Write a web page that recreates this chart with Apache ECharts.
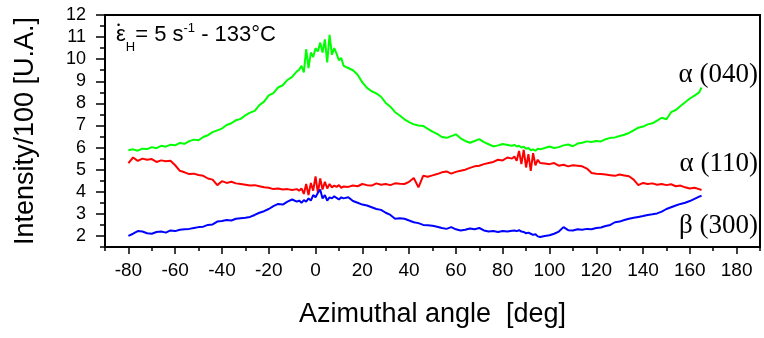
<!DOCTYPE html>
<html>
<head>
<meta charset="utf-8">
<script src="https://cdn.jsdelivr.net/npm/echarts@6/dist/echarts.min.js"></script>
<style>html,body{margin:0;padding:0;background:#fff}#c{width:764px;height:338px}</style>
</head>
<body>
<div id="c"></div>
<script>
// Azimuthal angle (deg)
const angles = [
  -80,-78,-76,-74,-72,-70,-68,-66,-64,-62,-60,-58,-56,-54,-52,-50,-48,-46,-44,-42,-40,-38,-36,-34,-32,-30,-28,-26,-24,-22,-20,-18,-16,-14,-12,-10,-8,
  -7,-6,-5,-4,-3,-2,-1,0,1,2,3,4,5,6,7,8,9,10,11,12,
  14,16,18,20,22,24,26,28,30,32,34,36,38,40,42,44,46,48,50,52,54,56,58,60,62,64,66,68,70,72,74,76,78,80,82,84,
  85,86,87,88,89,90,91,92,93,94,95,96,
  98,100,102,104,106,108,110,112,114,116,118,120,122,124,126,128,130,132,134,136,138,140,142,144,146,148,150,152,154,156,158,160,162,164,
  165
];
// alpha (040)
const alpha040 = [
  5.88,5.92,5.86,5.95,5.93,6.02,5.97,6.08,6.04,6.13,6.10,6.21,6.17,6.29,6.36,6.33,6.48,6.56,6.70,6.78,6.86,7.02,7.10,7.24,7.30,7.46,7.58,7.66,7.92,8.08,8.36,8.46,8.72,8.82,9.06,9.20,9.45,
  9.52,9.70,9.40,10.45,9.60,10.30,10.10,10.50,10.35,10.75,10.30,10.90,9.85,11.10,10.20,10.50,10.25,9.95,10.05,9.70,
  9.60,9.50,9.30,8.95,8.70,8.55,8.45,8.30,8.02,7.85,7.60,7.45,7.28,7.15,7.05,7.00,6.98,6.85,6.72,6.62,6.48,6.44,6.52,6.60,6.42,6.30,6.22,6.30,6.38,6.25,6.15,6.05,6.10,6.16,6.12,6.08,
  6.12,6.05,6.08,6.00,6.04,5.95,5.98,5.88,5.92,5.86,5.95,5.92,
  5.98,6.05,5.98,6.02,6.10,6.14,6.06,6.18,6.22,6.28,6.25,6.30,6.28,6.38,6.44,6.46,6.52,6.58,6.66,6.78,6.90,6.95,7.05,7.10,7.22,7.35,7.28,7.60,7.70,7.88,8.05,8.22,8.35,8.50,
  8.72
];
// alpha (110)
const alpha110 = [
  5.30,5.55,5.40,5.50,5.45,5.48,5.35,5.42,5.38,5.40,5.20,4.95,4.88,4.80,4.82,4.76,4.72,4.60,4.55,4.30,4.48,4.40,4.45,4.38,4.35,4.32,4.28,4.30,4.25,4.20,4.18,4.12,4.15,4.10,4.12,4.08,4.12,
  4.05,4.15,3.90,4.35,3.85,4.40,4.05,4.70,3.95,4.60,4.10,4.45,4.15,4.35,4.20,4.28,4.22,4.30,4.18,4.24,
  4.22,4.28,4.25,4.35,4.30,4.28,4.38,4.32,4.35,4.30,4.38,4.36,4.35,4.45,4.62,4.20,4.72,4.68,4.74,4.80,4.88,4.92,4.82,4.90,4.95,5.00,5.08,5.15,5.18,5.25,5.30,5.35,5.45,5.42,5.55,5.50,
  5.60,5.40,5.85,5.25,5.90,5.10,5.70,4.95,5.75,5.20,5.45,5.30,
  5.28,5.25,5.30,5.18,5.22,5.15,5.20,5.18,5.15,5.05,4.85,4.82,4.80,4.78,4.75,4.72,4.78,4.74,4.70,4.55,4.30,4.40,4.35,4.38,4.32,4.35,4.30,4.34,4.25,4.28,4.20,4.15,4.18,4.12,
  4.08
];
// beta (300)
const beta300 = [
  2.00,2.10,2.22,2.20,2.12,2.10,2.18,2.20,2.15,2.25,2.22,2.28,2.30,2.32,2.36,2.40,2.42,2.50,2.52,2.65,2.68,2.72,2.70,2.78,2.80,2.82,2.86,2.95,3.05,3.12,3.22,3.35,3.45,3.42,3.55,3.65,3.55,
  3.60,3.50,3.62,3.55,3.70,3.60,3.85,3.75,3.95,4.10,3.70,3.85,3.60,3.75,3.70,3.80,3.72,3.65,3.75,3.70,
  3.75,3.58,3.50,3.42,3.38,3.30,3.22,3.18,3.05,2.95,2.78,2.80,2.78,2.70,2.62,2.58,2.50,2.48,2.46,2.42,2.36,2.32,2.40,2.30,2.25,2.28,2.34,2.30,2.36,2.25,2.20,2.22,2.18,2.22,2.20,2.24,
  2.25,2.22,2.26,2.20,2.18,2.12,2.15,2.10,2.05,2.08,1.98,1.95,
  2.00,2.03,2.10,2.20,2.40,2.26,2.25,2.30,2.28,2.32,2.30,2.36,2.38,2.45,2.50,2.62,2.65,2.72,2.78,2.82,2.86,2.90,2.95,2.98,3.02,3.10,3.22,3.30,3.38,3.45,3.50,3.58,3.68,3.78,
  3.82
];
// tick values
const xMajorTicks = [-80,-60,-40,-20,0,20,40,60,80,100,120,140,160,180];
const xMinorTicks = [-90,-70,-50,-30,-10,10,30,50,70,90,110,130,150,170,190];
const yMajorTicks = [2,3,4,5,6,7,8,9,10,11,12];
const yMinorTicks = [1.5,2.5,3.5,4.5,5.5,6.5,7.5,8.5,9.5,10.5,11.5];

function pairs(vals){ const n=Math.min(angles.length, vals.length); const out=[]; for(let i=0;i<n;i++) out.push([angles[i], vals[i]]); return out; }

const chart = echarts.init(document.getElementById('c'), null, {renderer:'canvas'});
const SANS = 'Liberation Sans, Arial, sans-serif';
const SERIF = 'Liberation Serif, Times New Roman, serif';
const tickStyle = {color:'#000', width:1.5};
const hiddenLine = {show:false, onZero:false};
chart.setOption({
  animation:false,
  backgroundColor:'#fff',
  grid:{left:105, top:15, right:4, bottom:91, show:true, borderColor:'#000', borderWidth:2, backgroundColor:'transparent'},
  xAxis:[
    {type:'value', min:-90, max:190, position:'bottom',
     axisLine:hiddenLine, splitLine:{show:false},
     axisTick:{show:true, customValues:xMajorTicks, length:7, lineStyle:tickStyle},
     axisLabel:{customValues:xMajorTicks, margin:14, fontSize:19, color:'#000', fontFamily:SANS},
     name:'Azimuthal angle  [deg]', nameLocation:'middle', nameGap:54,
     nameTextStyle:{fontSize:27, color:'#000', fontFamily:SANS}},
    {type:'value', min:-90, max:190, position:'bottom',
     axisLine:hiddenLine, splitLine:{show:false},
     axisTick:{show:true, customValues:xMinorTicks, length:4, lineStyle:tickStyle},
     axisLabel:{show:false}}
  ],
  yAxis:[
    {type:'value', min:1.5, max:12, position:'left',
     axisLine:hiddenLine, splitLine:{show:false},
     axisTick:{show:true, customValues:yMajorTicks, length:9, lineStyle:tickStyle},
     axisLabel:{customValues:yMajorTicks, margin:19, fontSize:18, color:'#000', fontFamily:SANS},
     name:'Intensity/100 [U.A.]', nameLocation:'middle', nameGap:66, nameRotate:90,
     nameTextStyle:{fontSize:27, color:'#000', fontFamily:SANS}},
    {type:'value', min:1.5, max:12, position:'left',
     axisLine:hiddenLine, splitLine:{show:false},
     axisTick:{show:true, customValues:yMinorTicks, length:5, lineStyle:tickStyle},
     axisLabel:{show:false}}
  ],
  series:[
    {name:'α (040)', type:'line', data:pairs(alpha040), showSymbol:false, lineStyle:{color:'#00ff00', width:2}, itemStyle:{color:'#00ff00'}, z:3},
    {name:'α (110)', type:'line', data:pairs(alpha110), showSymbol:false, lineStyle:{color:'#ff0000', width:2}, itemStyle:{color:'#ff0000'}, z:2},
    {name:'β (300)', type:'line', data:pairs(beta300), showSymbol:false, lineStyle:{color:'#0000ff', width:2}, itemStyle:{color:'#0000ff'}, z:4}
  ],
  graphic:[
    {type:'text', left:117, top:21, style:{text:'•', font:'9px '+SANS, fill:'#000'}},
    {type:'text', left:116, top:22, style:{
      text:'{e|ε}{sub|H}{n|= 5 s}{sup|-1}{n| - 133°C}',
      rich:{
        e:{fontSize:22, fontFamily:SANS, fill:'#000', lineHeight:26},
        n:{fontSize:22, fontFamily:SANS, fill:'#000', lineHeight:26},
        sub:{fontSize:13, fontFamily:SANS, fill:'#000', verticalAlign:'bottom', lineHeight:26, padding:[0,0,-6,0]},
        sup:{fontSize:13, fontFamily:SANS, fill:'#000', verticalAlign:'top', lineHeight:26, padding:[0,0,0,0]}
      }
    }},
    {type:'text', right:6, top:61, style:{text:'α (040)', font:'27px '+SERIF, fill:'#000'}},
    {type:'text', right:6, top:150, style:{text:'α (110)', font:'27px '+SERIF, fill:'#000'}},
    {type:'text', right:6, top:212, style:{text:'β (300)', font:'27px '+SERIF, fill:'#000'}}
  ]
});
</script>
</body>
</html>
